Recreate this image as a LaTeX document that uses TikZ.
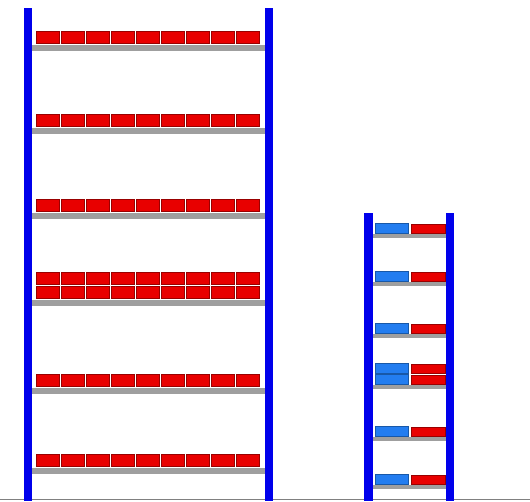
\documentclass[tikz,border=0pt]{standalone}
\definecolor{poleblue}{RGB}{0,0,235}
\definecolor{cratered}{RGB}{232,0,0}
\definecolor{crateblue}{RGB}{35,125,240}
\tikzstyle{pole}=[fill=poleblue, draw=none]
\tikzstyle{shelf}=[fill=gray!75, draw=none]
\tikzstyle{redcrate}=[fill=cratered, draw=red!60!black, line width=0.4pt]
\tikzstyle{bluecrate}=[fill=crateblue, draw=crateblue!70!black, line width=0.4pt]

\begin{document}
\begin{tikzpicture}[x=1pt, y=-1pt]
	
	\def\w{23}   % width of a crate on the tall rack
	\def\p{25}   % pitch of the crates
	
	\useasboundingbox (0,0) rectangle (530,501);
	
	% floor
	\draw[gray, line width=0.8pt] (0,499) -- (530,499);
	
	% Tall rack: six shelves, nine crates each
	\foreach \s in {45,128,213,300,388,468} {
		\fill[shelf] (30,\s) rectangle (268,\s+6);
		\foreach \i in {0,...,8} {
			\filldraw[redcrate] ({36+\p*\i},\s-2) rectangle ({36+\w+\p*\i},\s-14);
		}
	}
	% the fourth shelf carries a second layer
	\foreach \i in {0,...,8} {
		\filldraw[redcrate] ({36+\p*\i},284) rectangle ({36+\w+\p*\i},272);
	}
	\fill[pole] (24,8) rectangle (32,501);
	\fill[pole] (265,8) rectangle (273,501);
	
	% Short rack: one blue and one red crate per shelf
	\foreach \s in {234,282,334,385,437,485} {
		\fill[shelf] (370,\s) rectangle (450,\s+4);
		\filldraw[bluecrate] (375,\s-1) rectangle (408,\s-11);
		\filldraw[redcrate] (411,\s-1) rectangle (445,\s-10);
	}
	\filldraw[bluecrate] (375,373) rectangle (408,363);
	\filldraw[redcrate] (411,373) rectangle (445,364);
	\fill[pole] (364,213) rectangle (373,501);
	\fill[pole] (446,213) rectangle (454,501);
	
\end{tikzpicture}
\end{document}
